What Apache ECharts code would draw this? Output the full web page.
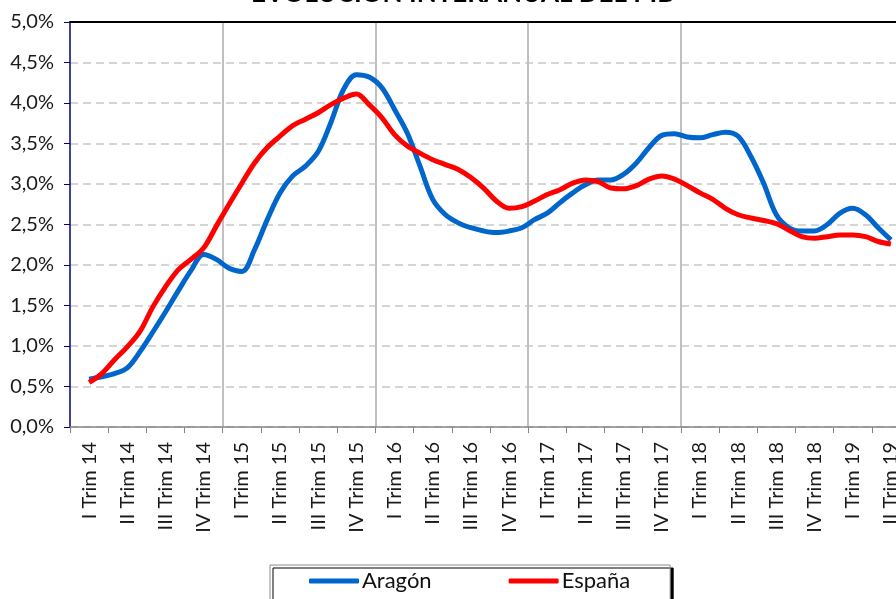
<!DOCTYPE html>
<html>
<head>
<meta charset="utf-8">
<script src="https://cdn.jsdelivr.net/npm/echarts@6/dist/echarts.min.js"></script>
<style>
  html, body { margin: 0; padding: 0; background: #fff; }
  #main { width: 896px; height: 599px; }
</style>
</head>
<body>
<div id="main"></div>
<script>
// trimestres del eje
var trimestres = [
    'I Trim 14', 'II Trim 14', 'III Trim 14', 'IV Trim 14',
    'I Trim 15', 'II Trim 15', 'III Trim 15', 'IV Trim 15',
    'I Trim 16', 'II Trim 16', 'III Trim 16', 'IV Trim 16',
    'I Trim 17', 'II Trim 17', 'III Trim 17', 'IV Trim 17',
    'I Trim 18', 'II Trim 18', 'III Trim 18', 'IV Trim 18',
    'I Trim 19', 'II Trim 19'
];

// valores (%), tres por trimestre
var aragon = [
    0.59, 0.62, 0.66, 0.73, 0.93, 1.17, 1.42, 1.68, 1.93, 2.13,
    2.07, 1.96, 1.92, 2.19, 2.56, 2.89, 3.10, 3.22, 3.40, 3.76,
    4.17, 4.35, 4.32, 4.19, 3.92, 3.63, 3.22, 2.81, 2.62, 2.52,
    2.46, 2.42, 2.40, 2.42, 2.46, 2.56, 2.64, 2.77, 2.89, 2.99,
    3.05, 3.05, 3.12, 3.26, 3.45, 3.60, 3.62, 3.58, 3.57, 3.61,
    3.64, 3.59, 3.34, 3.01, 2.62, 2.46, 2.42, 2.42, 2.50, 2.64,
    2.70, 2.62, 2.46, 2.31
];
var espana = [
    0.55, 0.66, 0.83, 0.99, 1.18, 1.48, 1.73, 1.94, 2.07, 2.21,
    2.48, 2.75, 3.01, 3.26, 3.45, 3.59, 3.72, 3.80, 3.88, 3.98,
    4.06, 4.11, 3.98, 3.82, 3.61, 3.47, 3.38, 3.30, 3.24, 3.18,
    3.08, 2.95, 2.79, 2.70, 2.72, 2.79, 2.87, 2.93, 3.01, 3.05,
    3.03, 2.95, 2.94, 2.98, 3.06, 3.10, 3.06, 2.98, 2.89, 2.81,
    2.70, 2.62, 2.58, 2.55, 2.51, 2.43, 2.35, 2.33, 2.35, 2.37,
    2.37, 2.35, 2.29, 2.26
];

// eje fino: 3 subdivisiones por trimestre, el punto central cae en el centro del trimestre
var subdiv = [];
for (var i = 0; i < trimestres.length; i++) {
    subdiv.push(trimestres[i] + ' a', trimestres[i], trimestres[i] + ' c');
}
var serieAragon = [null].concat(aragon, [null]);
var serieEspana = [null].concat(espana, [null]);

var fuente = 'Lato, "DejaVu Sans", sans-serif';
var myChart = echarts.init(document.getElementById('main'));

var option = {
    animation: false,
    textStyle: { fontFamily: fuente },
    title: {
        text: 'EVOLUCIÓN INTERANUAL DEL PIB',
        left: 246,
        top: -24,
        textStyle: { fontSize: 26, fontWeight: 'bold', color: '#000', fontFamily: fuente }
    },
    legend: {
        data: ['Aragón', 'España'],
        left: 270,
        top: 565,
        padding: [5, 40, 14, 39],
        itemGap: 77,
        itemWidth: 50,
        itemHeight: 5,
        icon: 'roundRect',
        borderColor: '#8c8c8c',
        borderWidth: 1,
        backgroundColor: '#fff',
        shadowColor: '#000',
        shadowOffsetX: 3,
        shadowOffsetY: 3,
        shadowBlur: 0,
        textStyle: { fontSize: 22, color: '#111', fontFamily: fuente, padding: [0, 0, 0, -2] }
    },
    grid: {
        left: 70,
        top: 22,
        width: 840,
        bottom: 172,
        outerBoundsMode: 'none'
    },
    xAxis: [
        {
            type: 'category',
            data: trimestres,
            position: 'bottom',
            boundaryGap: true,
            axisLine: { lineStyle: { color: '#868686', width: 1.5 } },
            axisTick: { show: true, interval: 0, length: 6, lineStyle: { color: '#868686' } },
            axisLabel: {
                interval: 0,
                rotate: 90,
                fontSize: 20,
                color: '#1a1a1a',
                margin: 15,
                fontFamily: fuente
            },
            splitLine: {
                show: true,
                interval: function (index) {
                    return index > 0 && index % 4 === 0 && index < 20;
                },
                lineStyle: { color: '#c0c0c0', width: 2 }
            }
        },
        {
            type: 'category',
            data: subdiv,
            position: 'top',
            boundaryGap: true,
            axisLine: { show: true, lineStyle: { color: '#000', width: 2 } },
            axisTick: { show: false },
            axisLabel: { show: false },
            splitLine: { show: false }
        }
    ],
    yAxis: {
        type: 'value',
        min: 0,
        max: 5,
        interval: 0.5,
        axisLine: { show: true, lineStyle: { color: '#000080', width: 1.5 } },
        axisTick: { show: true, length: 6, lineStyle: { color: '#000080' } },
        axisLabel: {
            fontSize: 20,
            color: '#1a1a1a',
            margin: 16,
            fontFamily: fuente,
            formatter: function (v) {
                return v.toFixed(1).replace('.', ',') + '%';
            }
        },
        splitLine: {
            show: true,
            lineStyle: { color: '#c8c8c8', width: 1.5, type: [8, 5] }
        }
    },
    series: [
        {
            name: 'Aragón',
            type: 'line',
            xAxisIndex: 1,
            data: serieAragon,
            smooth: 0.35,
            symbol: 'none',
            itemStyle: { color: '#0066cc' },
            lineStyle: { color: '#0066cc', width: 5 },
            z: 3
        },
        {
            name: 'España',
            type: 'line',
            xAxisIndex: 1,
            data: serieEspana,
            smooth: 0.35,
            symbol: 'none',
            itemStyle: { color: '#ff0000' },
            lineStyle: { color: '#ff0000', width: 5 },
            z: 4
        }
    ]
};

if (option && typeof option === "object") {
    myChart.setOption(option, true);
}
</script>
</body>
</html>
